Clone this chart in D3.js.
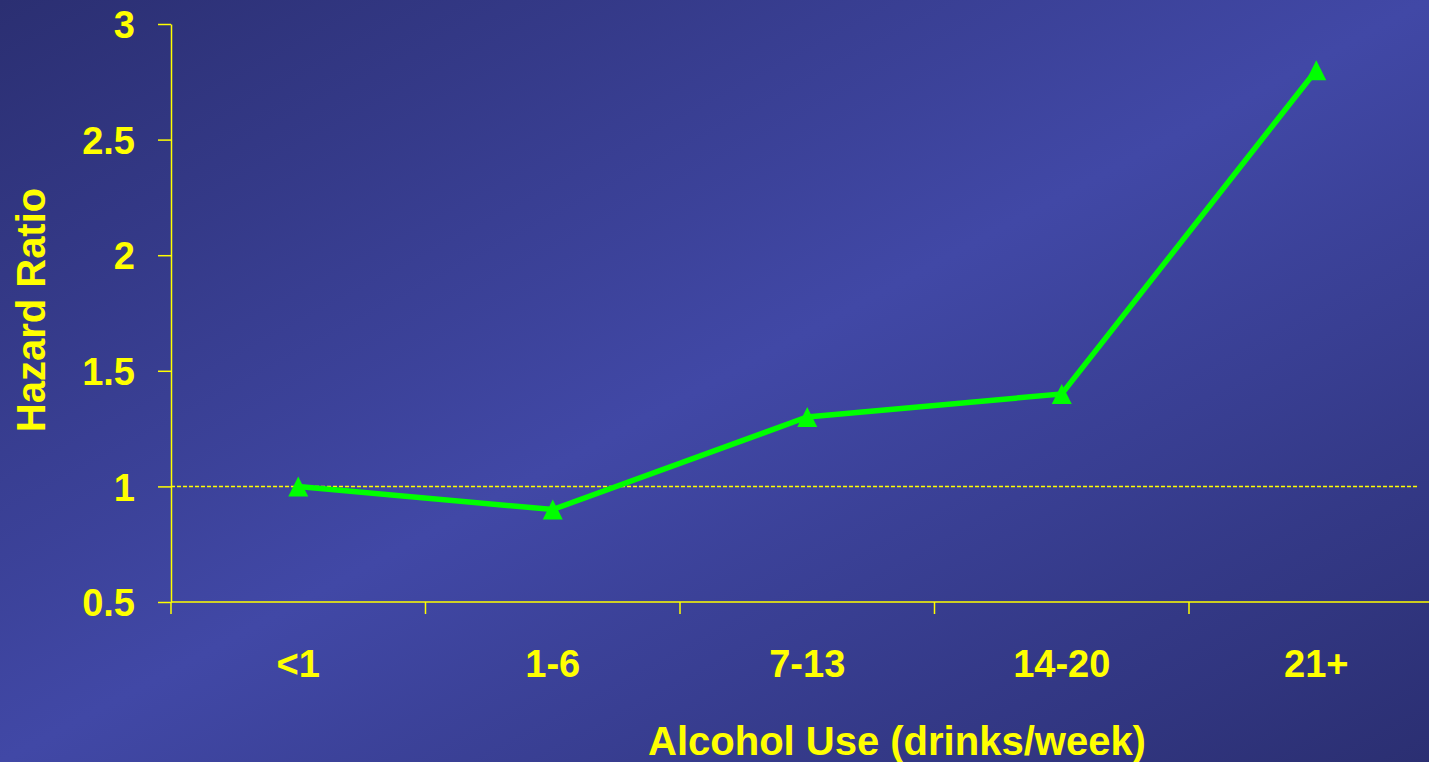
<!DOCTYPE html>
<html>
<head>
<meta charset="utf-8">
<script src="https://cdn.jsdelivr.net/npm/d3@7"></script>
<style>
  html, body { margin: 0; padding: 0; overflow: hidden; background: #2e3378; }
  svg { display: block; }
  text { font-family: "Liberation Sans", Arial, sans-serif; font-weight: bold; fill: #ffff00; }
</style>
</head>
<body>
<svg id="chart" width="1429" height="762"></svg>
<script>
// Hazard ratio by weekly alcohol intake
const categories = ["<1", "1-6", "7-13", "14-20", "21+"];
const hazardRatio = [1.0, 0.9, 1.3, 1.4, 2.8];
const yTickValues = [0.5, 1, 1.5, 2, 2.5, 3];
const yTickLabels = ["0.5", "1", "1.5", "2", "2.5", "3"];
const referenceValue = 1;

const W = 1429, H = 762;
const svg = d3.select("#chart");

// Background: dark corners, lighter band along the diagonal
const defs = svg.append("defs");
const grad = defs.append("linearGradient")
  .attr("id", "bg").attr("x1", 0).attr("y1", 0).attr("x2", 1).attr("y2", 1);
grad.append("stop").attr("offset", "0%").attr("stop-color", "#2b2f72");
grad.append("stop").attr("offset", "50%").attr("stop-color", "#4148a6");
grad.append("stop").attr("offset", "100%").attr("stop-color", "#2b2f72");
svg.append("rect").attr("width", W).attr("height", H).attr("fill", "url(#bg)");

const plot = { left: 171, top: 24, bottom: 602, step: 254.5 };

const x = d3.scaleBand()
  .domain(categories)
  .range([plot.left, plot.left + plot.step * categories.length])
  .paddingInner(0).paddingOuter(0);

const y = d3.scaleLinear().domain([0.5, 3]).range([plot.bottom, plot.top]);

const axisColor = "#ffff00";

// Y axis
const yAxis = svg.append("g")
  .attr("transform", `translate(${plot.left},0)`)
  .call(d3.axisLeft(y)
    .tickValues(yTickValues)
    .tickFormat((d, i) => yTickLabels[i])
    .tickSize(13)
    .tickPadding(23)
    .tickSizeOuter(0));
yAxis.select(".domain").attr("stroke", axisColor).attr("stroke-width", 1.5);
yAxis.selectAll(".tick line").attr("stroke", axisColor).attr("stroke-width", 1.5);
yAxis.selectAll(".tick text")
  .attr("fill", axisColor)
  .style("font-size", "38px")
  .attr("dy", "0.36em");

// X axis line
svg.append("line")
  .attr("x1", plot.left).attr("x2", W)
  .attr("y1", plot.bottom).attr("y2", plot.bottom)
  .attr("stroke", axisColor).attr("stroke-width", 1.5);

// X tick marks at category boundaries
const boundaries = categories.map(c => x(c)).concat([x.range()[1]]);
svg.append("g").selectAll("line")
  .data(boundaries)
  .join("line")
  .attr("x1", d => d).attr("x2", d => d)
  .attr("y1", plot.bottom).attr("y2", plot.bottom + 12)
  .attr("stroke", axisColor).attr("stroke-width", 1.5);

// X category labels
const xAxis = svg.append("g")
  .attr("transform", `translate(0,${plot.bottom})`)
  .call(d3.axisBottom(x).tickSize(0).tickPadding(48));
xAxis.select(".domain").remove();
xAxis.selectAll(".tick text")
  .attr("fill", axisColor)
  .style("font-size", "38px")
  .attr("dy", "0.71em");

// Reference line at hazard ratio 1
svg.append("line")
  .attr("x1", plot.left).attr("x2", 1418)
  .attr("y1", y(referenceValue)).attr("y2", y(referenceValue))
  .attr("stroke", "#ffff00").attr("stroke-width", 1.5)
  .attr("stroke-dasharray", "4,2");

// Series line
const line = d3.line()
  .x((d, i) => x(categories[i]) + x.bandwidth() / 2)
  .y(d => y(d));
svg.append("path")
  .datum(hazardRatio)
  .attr("d", line)
  .attr("fill", "none")
  .attr("stroke", "#00ff00")
  .attr("stroke-width", 5.5)
  .attr("stroke-linejoin", "miter");

// Triangle markers (20 x 20 box centred on each point)
const tri = "M0,-10L10,10L-10,10Z";
svg.append("g").selectAll("path")
  .data(hazardRatio)
  .join("path")
  .attr("d", tri)
  .attr("transform", (d, i) => `translate(${x(categories[i]) + x.bandwidth() / 2},${y(d)})`)
  .attr("fill", "#00ff00");

// Axis titles
svg.append("text")
  .attr("transform", "translate(45,310) rotate(-90)")
  .attr("text-anchor", "middle")
  .style("font-size", "40px")
  .text("Hazard Ratio");

svg.append("text")
  .attr("x", 897).attr("y", 755)
  .attr("text-anchor", "middle")
  .style("font-size", "40px")
  .text("Alcohol Use (drinks/week)");
</script>
</body>
</html>
